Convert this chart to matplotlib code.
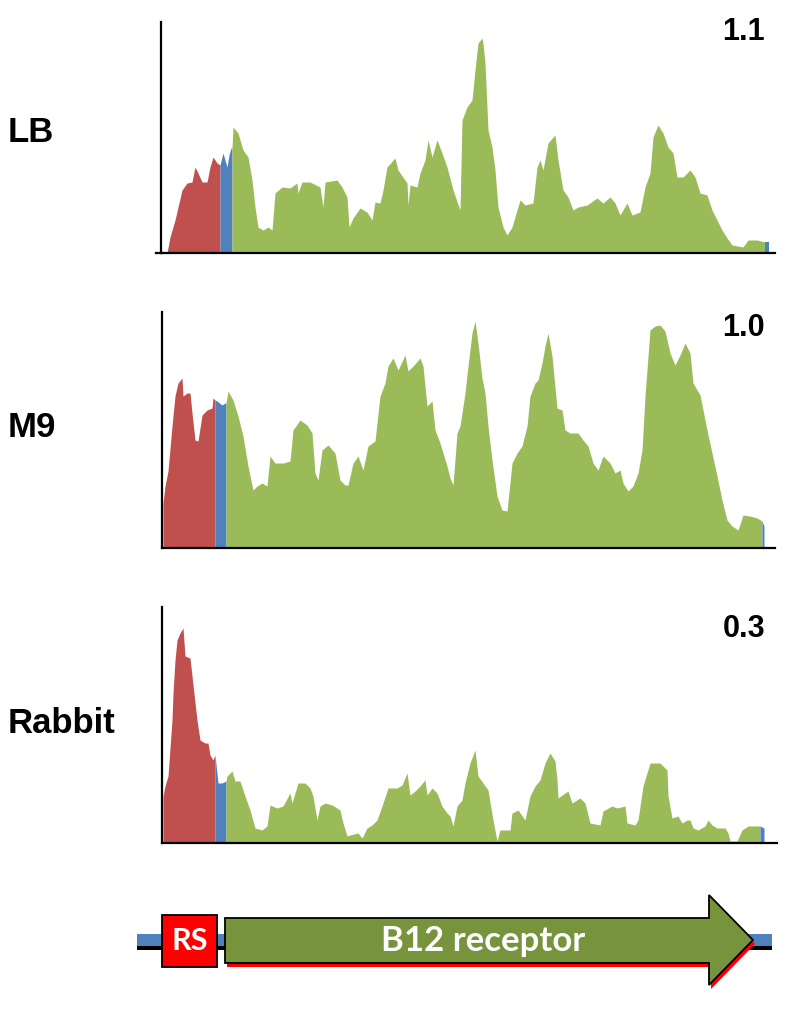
import numpy as np
import matplotlib
matplotlib.use("Agg")
import matplotlib.pyplot as plt
from matplotlib.patches import Rectangle, Polygon

# coverage profiles along the locus (position, coverage)
lb_pos = [6, 9, 14, 21, 26, 31, 34, 37, 41, 46, 49, 52, 56, 59, 62, 66, 68, 70, 71,
          72, 77, 82, 87, 91, 94, 97, 102, 107, 111, 114, 121, 129, 136, 137, 141, 149,
          159, 162, 164, 176, 181, 186, 188, 192, 199, 206, 211, 214, 219, 222, 226,
          234, 237, 246, 247, 249, 256, 259, 264, 267, 271, 276, 281, 286, 292, 299,
          301, 306, 311, 314, 317, 321, 322, 324, 327, 331, 334, 337, 342, 346, 351,
          356, 359, 364, 372, 376, 379, 382, 387, 394, 397, 402, 407, 412, 417, 426,
          436, 442, 449, 454, 459, 466, 471, 479, 484, 489, 492, 497, 502, 507, 512,
          516, 522, 529, 534, 539, 546, 551, 556, 561, 566, 571, 582, 587, 596, 604, 608]
lb_cov = [0, 16, 33, 63, 70, 71, 86, 80, 71, 71, 86, 96, 90, 88, 100, 86, 98, 105, 105,
          126, 120, 103, 96, 73, 46, 26, 23, 26, 23, 60, 66, 65, 70, 60, 71, 71,
          66, 46, 71, 73, 66, 56, 26, 35, 45, 41, 33, 51, 50, 63, 86,
          95, 83, 70, 48, 68, 66, 80, 93, 113, 96, 113, 100, 86, 63, 43,
          133, 146, 153, 183, 210, 215, 210, 190, 123, 106, 83, 46, 26, 18, 26,
          43, 53, 48, 50, 86, 93, 83, 110, 118, 93, 63, 56, 43, 46, 48,
          55, 50, 56, 50, 38, 50, 38, 41, 66, 80, 116, 128, 120, 106, 100,
          76, 76, 83, 76, 60, 58, 43, 33, 23, 15, 8, 6, 13, 13, 11, 11]

m9_pos = [1, 3, 6, 10, 13, 16, 20, 21, 25, 28, 30, 33, 36, 40, 45, 50, 51, 53, 55, 60,
          63, 64, 66, 71, 76, 81, 86, 91, 95, 100, 105, 108, 113, 121, 128, 131, 138,
          145, 150, 153, 156, 160, 166, 173, 178, 183, 186, 191, 196, 201, 206, 213,
          218, 223, 226, 231, 236, 243, 246, 251, 258, 261, 265, 270, 273, 278, 285,
          288, 291, 295, 298, 303, 306, 310, 313, 316, 320, 323, 326, 330, 335, 340,
          345, 350, 355, 360, 365, 368, 373, 376, 380, 383, 386, 390, 395, 400, 403,
          408, 416, 421, 426, 431, 436, 441, 448, 453, 458, 461, 466, 471, 476, 480,
          483, 488, 493, 498, 503, 508, 513, 518, 523, 528, 531, 538, 545, 550, 555,
          560, 565, 570, 576, 581, 588, 595, 600, 602]
m9_cov = [45, 62, 77, 122, 152, 165, 170, 152, 155, 155, 135, 108, 107, 133, 138, 140, 150, 148, 147, 143,
          145, 145, 157, 148, 132, 112, 82, 58, 62, 65, 62, 92, 85, 85, 87, 118, 128,
          123, 115, 75, 68, 98, 103, 95, 68, 63, 63, 85, 92, 78, 102, 107,
          152, 165, 182, 190, 178, 193, 177, 182, 190, 182, 142, 147, 118, 105, 82,
          70, 63, 115, 122, 155, 182, 215, 227, 205, 170, 155, 122, 88, 52, 38,
          37, 85, 95, 102, 122, 152, 165, 168, 185, 202, 215, 192, 140, 138, 118,
          115, 115, 108, 102, 85, 78, 92, 85, 75, 78, 65, 57, 62, 75, 98,
          152, 218, 222, 223, 217, 195, 183, 193, 205, 195, 165, 153, 118, 95, 72,
          48, 28, 22, 18, 33, 32, 30, 27, 22]

rabbit_pos = [1, 3, 6, 10, 11, 13, 15, 18, 21, 23, 28, 31, 35, 38, 43, 46, 48, 51, 53,
              56, 60, 64, 65, 70, 73, 78, 83, 88, 93, 100, 105, 108, 115, 121, 128, 130,
              133, 136, 143, 148, 151, 155, 158, 163, 170, 178, 181, 185, 188, 196, 200,
              205, 210, 215, 220, 226, 235, 240, 245, 248, 253, 258, 263, 265, 270, 275,
              280, 285, 288, 291, 295, 300, 303, 308, 313, 316, 321, 326, 331, 335, 338,
              348, 350, 356, 363, 368, 373, 378, 383, 388, 393, 395, 396, 403, 406, 410,
              418, 423, 428, 438, 441, 450, 455, 463, 465, 473, 476, 481, 488, 498, 505,
              506, 510, 516, 520, 525, 528, 531, 536, 543, 546, 550, 555, 563, 566, 568,
              575, 580, 586, 598, 602]
rabbit_cov = [47, 57, 67, 123, 150, 183, 203, 210, 215, 187, 185, 158, 123, 103, 100, 100, 88, 83, 88,
              60, 60, 62, 67, 72, 62, 62, 47, 33, 15, 13, 17, 38, 35, 37, 50, 40,
              50, 60, 60, 55, 47, 23, 37, 40, 38, 33, 20, 7, 8, 10, 5,
              15, 18, 23, 37, 55, 55, 58, 70, 48, 52, 57, 63, 48, 55, 50,
              37, 30, 27, 17, 37, 43, 60, 80, 93, 67, 60, 53, 23, 2, 13,
              13, 30, 33, 23, 47, 57, 63, 80, 90, 82, 63, 45, 50, 52, 40,
              45, 40, 20, 18, 32, 37, 35, 37, 20, 18, 23, 57, 80, 80, 73,
              47, 25, 27, 20, 23, 23, 15, 13, 17, 23, 18, 15, 15, 10, 2,
              2, 13, 17, 17, 15]

# region boundaries: RS, spacer, B12 receptor, downstream
lb_bounds = [6, 59, 71, 604, 608]
m9_bounds = [1, 53, 64, 600, 602]
rabbit_bounds = [1, 53, 64, 598, 602]

labels = ["LB", "M9", "Rabbit"]
ratios = ["1.1", "1.0", "0.3"]

red = "#C0504D"
blue = "#4F81BD"
green = "#9BBB59"
seg_colors = [red, blue, green, blue]

W, H = 792, 1010
fig = plt.figure(figsize=(W / 100, H / 100), dpi=100)

# overlay in pixel coordinates for labels and the gene diagram
ov = fig.add_axes([0, 0, 1, 1])
ov.set_xlim(0, W)
ov.set_ylim(H, 0)
ov.axis("off")


def panel(rect, pos, cov, bounds, ymax):
    left, top, right, bottom = rect
    ax = fig.add_axes([left / W, 1 - bottom / H, (right - left) / W, (bottom - top) / H])
    x = np.array(pos, dtype=float)
    y = np.array(cov, dtype=float)
    for i in range(len(bounds) - 1):
        m = (x >= bounds[i]) & (x <= bounds[i + 1])
        ax.fill_between(x[m], 0, y[m], color=seg_colors[i], lw=0)
    ax.set_xlim(0, right - left)
    ax.set_ylim(0, ymax)
    for s in ["top", "right"]:
        ax.spines[s].set_visible(False)
    for s in ["left", "bottom"]:
        ax.spines[s].set_linewidth(1.6)
        ax.spines[s].set_color("black")
    ax.set_xticks([])
    ax.set_yticks([])
    ax.patch.set_alpha(0)
    return ax


panel((161, 22, 775, 253), lb_pos, lb_cov, lb_bounds, 231)
panel((162, 312, 775, 548), m9_pos, m9_cov, m9_bounds, 236)
panel((162, 607, 777, 843), rabbit_pos, rabbit_cov, rabbit_bounds, 236)

# the LB baseline pokes out a little left of its y axis
ov.plot([156, 162], [253, 253], color="black", lw=1.6)

label_y = [142, 437, 733]
ratio_y = [40, 336, 637]
for i in range(3):
    ov.text(8, label_y[i], labels[i], fontsize=25, fontweight="bold",
            family="Liberation Sans", ha="left", va="baseline")
    ov.text(765, ratio_y[i], ratios[i], fontsize=22, fontweight="bold",
            family="Liberation Sans", ha="right", va="baseline")

# gene diagram
ov.add_patch(Rectangle((137, 934), 635, 12, color=blue, lw=0))
ov.add_patch(Rectangle((137, 946), 635, 4, color="black", lw=0))

arrow = [(225, 918), (709, 918), (709, 895), (753, 940), (709, 985), (709, 963), (225, 963)]
shadow = [(px + 2, py + 4) for px, py in arrow]
ov.add_patch(Polygon(shadow, closed=True, facecolor="#FF0000", edgecolor="none"))
ov.add_patch(Polygon(arrow, closed=True, facecolor="#77933C", edgecolor="black", lw=1.3))
ov.text(483, 941, "B12 receptor", color="white", fontsize=25, fontweight="bold",
        family="Lato", ha="center", va="center")

ov.add_patch(Rectangle((162, 915), 55, 52, facecolor="#FF0000", edgecolor="black", lw=1.3))
ov.text(189.5, 941, "RS", color="white", fontsize=22, fontweight="bold",
        family="Lato", ha="center", va="center")

fig.savefig("out.png", dpi=100)
